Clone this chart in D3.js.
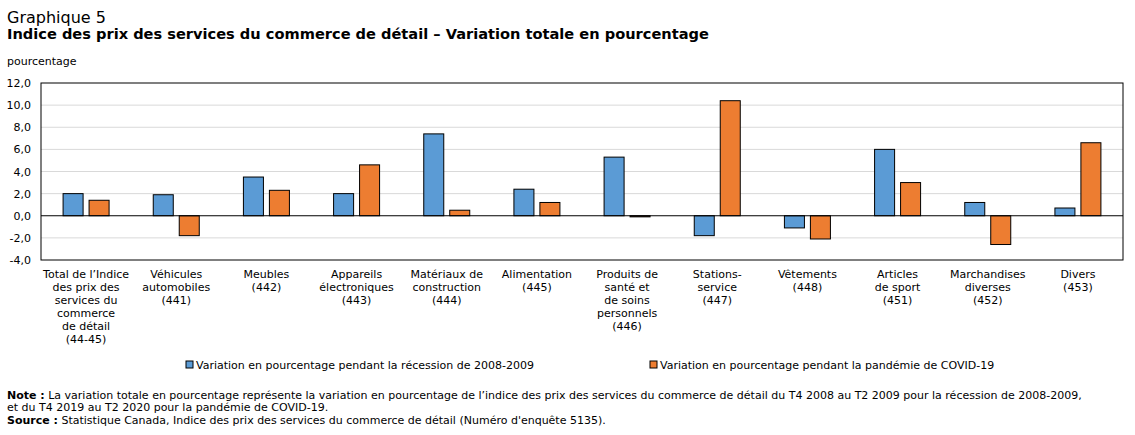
<!DOCTYPE html>
<html>
<head>
<meta charset="utf-8">
<script src="https://cdn.jsdelivr.net/npm/d3@7"></script>
<style>
  body { margin: 0; background: #fff; }
  text { font-family: "DejaVu Sans", Verdana, sans-serif; fill: #000; }
</style>
</head>
<body>
<script>
// categories (each label split into lines)
var categories = [
  ["Total de l\u2019Indice", "des prix des", "services du", "commerce", "de d\u00e9tail", "(44-45)"],
  ["V\u00e9hicules", "automobiles", "(441)"],
  ["Meubles", "(442)"],
  ["Appareils", "\u00e9lectroniques", "(443)"],
  ["Mat\u00e9riaux de", "construction", "(444)"],
  ["Alimentation", "(445)"],
  ["Produits de", "sant\u00e9 et", "de soins", "personnels", "(446)"],
  ["Stations-", "service", "(447)"],
  ["V\u00eatements", "(448)"],
  ["Articles", "de sport", "(451)"],
  ["Marchandises", "diverses", "(452)"],
  ["Divers", "(453)"]
];
var seriesNames = [
  "Variation en pourcentage pendant la r\u00e9cession de 2008-2009",
  "Variation en pourcentage pendant la pand\u00e9mie de COVID-19"
];
var recession = [2.0, 1.9, 3.5, 2.0, 7.4, 2.4, 5.3, -1.8, -1.1, 6.0, 1.2, 0.7];
var pandemie  = [1.4, -1.8, 2.3, 4.6, 0.5, 1.2, -0.1, 10.4, -2.1, 3.0, -2.6, 6.6];
var yTicks = [-4, -2, 0, 2, 4, 6, 8, 10, 12];
var colors = ["#5b9bd5", "#ed7d31"];

var w = 1135, h = 435;
var margin = {top: 83, right: 12, bottom: 175, left: 41};

var svg = d3.select("body").append("svg")
    .attr("width", w)
    .attr("height", h);

// titles
svg.append("text").attr("x", 7).attr("y", 23)
    .style("font-size", "16px").text("Graphique 5");
svg.append("text").attr("x", 7).attr("y", 39)
    .style("font-size", "14.6px").style("font-weight", "bold")
    .text("Indice des prix des services du commerce de d\u00e9tail \u2013 Variation totale en pourcentage");
svg.append("text").attr("x", 7).attr("y", 65)
    .style("font-size", "11px").text("pourcentage");

var x0 = d3.scaleBand()
    .domain(d3.range(categories.length))
    .range([margin.left, w - margin.right]);

var bw = x0.bandwidth();
var x1 = d3.scaleBand()
    .domain([0, 1])
    .range([bw / 2 - 23, bw / 2 + 23])
    .paddingInner(0.23);

var y = d3.scaleLinear()
    .domain([-4, 12])
    .range([h - margin.bottom, margin.top]);

// grid
svg.append("g")
    .selectAll("line")
    .data(yTicks.filter(function(d) { return d !== 0 && d !== 12 && d !== -4; }))
    .enter().append("line")
    .attr("x1", margin.left).attr("x2", w - margin.right)
    .attr("y1", function(d) { return y(d); })
    .attr("y2", function(d) { return y(d); })
    .attr("stroke", "#d9d9d9")
    .attr("stroke-width", 1);

// y axis labels
var yAxis = d3.axisLeft(y)
    .tickValues(yTicks)
    .tickSize(0)
    .tickPadding(10)
    .tickFormat(function(d) { return d3.format(".1f")(d).replace(".", ",").replace("\u2212", "-"); });
var ya = svg.append("g")
    .attr("transform", "translate(" + margin.left + ",0)")
    .call(yAxis);
ya.select(".domain").remove();
ya.selectAll("text").style("font-size", "11px").style("font-family", "\"DejaVu Sans\", Verdana, sans-serif");

// bars
var rows = categories.map(function(c, i) { return [recession[i], pandemie[i]]; });
var groups = svg.selectAll("g.grp")
    .data(rows)
    .enter().append("g")
    .attr("class", "grp")
    .attr("transform", function(d, i) { return "translate(" + x0(i) + ",0)"; });

groups.selectAll("rect")
    .data(function(d) { return d; })
    .enter().append("rect")
    .attr("x", function(d, j) { return x1(j); })
    .attr("width", x1.bandwidth())
    .attr("y", function(d) { return y(Math.max(0, d)); })
    .attr("height", function(d) { return Math.abs(y(d) - y(0)); })
    .attr("fill", function(d, j) { return colors[j]; })
    .attr("stroke", "#000")
    .attr("stroke-width", 1);

// zero line and frame
svg.append("line")
    .attr("x1", margin.left).attr("x2", w - margin.right)
    .attr("y1", y(0)).attr("y2", y(0))
    .attr("stroke", "#000");
svg.append("rect")
    .attr("x", margin.left).attr("y", margin.top)
    .attr("width", w - margin.right - margin.left)
    .attr("height", h - margin.bottom - margin.top)
    .attr("fill", "none").attr("stroke", "#000");

// category labels
var labels = svg.append("g").selectAll("text")
    .data(categories)
    .enter().append("text")
    .attr("text-anchor", "middle")
    .attr("x", function(d, i) { return x0(i) + bw / 2; })
    .attr("y", y(-4) + 18)
    .style("font-size", "11px");
labels.selectAll("tspan")
    .data(function(d) { return d; })
    .enter().append("tspan")
    .attr("x", function() { return d3.select(this.parentNode).attr("x"); })
    .attr("dy", function(d, k) { return k === 0 ? 0 : 13; })
    .text(function(d) { return d; });

// legend
var legX = [186, 650];
var leg = svg.append("g").selectAll("g")
    .data(seriesNames)
    .enter().append("g")
    .attr("transform", function(d, i) { return "translate(" + legX[i] + ",361)"; });
leg.append("rect")
    .attr("width", 7).attr("height", 7)
    .attr("fill", function(d, i) { return colors[i]; })
    .attr("stroke", "#000").attr("stroke-width", 1);
leg.append("text")
    .attr("x", 10).attr("y", 8)
    .style("font-size", "11px")
    .text(function(d) { return d; });

// notes
var notes = svg.append("g").style("font-size", "11px");
var n1 = notes.append("text").attr("x", 7).attr("y", 399);
n1.append("tspan").style("font-weight", "bold").text("Note :");
n1.append("tspan").text(" La variation totale en pourcentage repr\u00e9sente la variation en pourcentage de l\u2019indice des prix des services du commerce de d\u00e9tail du T4 2008 au T2 2009 pour la r\u00e9cession de 2008-2009,");
notes.append("text").attr("x", 7).attr("y", 411)
    .text("et du T4 2019 au T2 2020 pour la pand\u00e9mie de COVID-19.");
var n3 = notes.append("text").attr("x", 7).attr("y", 424);
n3.append("tspan").style("font-weight", "bold").text("Source :");
n3.append("tspan").text(" Statistique Canada, Indice des prix des services du commerce de d\u00e9tail (Num\u00e9ro d'enqu\u00eate 5135).");
</script>
</body>
</html>
